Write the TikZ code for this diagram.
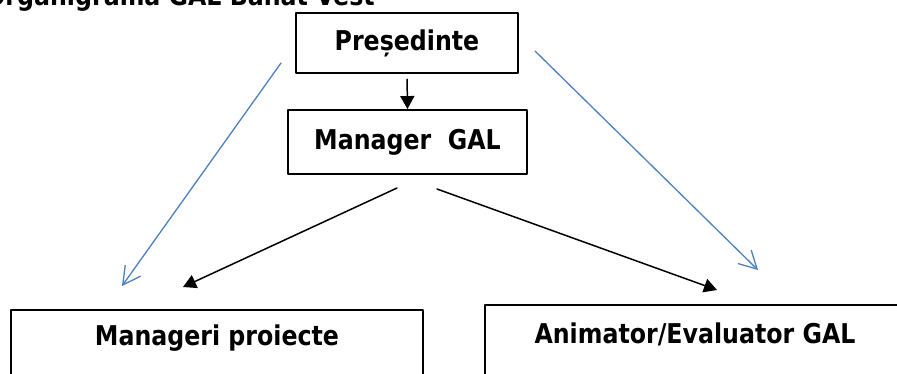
\documentclass[tikz,border=0pt]{standalone}
\usepackage{fontspec}
\usepackage{tikz}
\usetikzlibrary{arrows.meta}
\newfontfamily\galfont[FakeStretch=0.87]{DejaVu Sans}
\definecolor{albastru}{rgb}{0.31,0.506,0.741}

\tikzset{
  cutie/.style={draw=black,line width=1.1pt,rectangle,inner sep=0pt,
    font=\galfont\bfseries\fontsize{15.5pt}{18pt}\selectfont},
  jos/.style={cutie,anchor=north,text height=0.4cm,text depth=2.2cm},
  sageata/.style={-{Triangle[length=0.26cm,width=0.28cm]},line width=0.85pt,black},
  sageatab/.style={-{Straight Barb[length=0.35cm,width=0.38cm]},line width=0.75pt,albastru}
}

\begin{document}
\begin{tikzpicture}[line cap=round,line join=round,x=0.02cm,y=-0.02cm]
		\useasboundingbox (0,0) rectangle (897,373);
		% titlu (taiat sus)
		\node[anchor=base west,inner sep=0pt,font=\galfont\bfseries\fontsize{15.5pt}{18pt}\selectfont] (titlu) at (-15,5) {Organigrama GAL Banat-Vest};
		% cutii
		\node[cutie,minimum width=4.44cm,minimum height=1.2cm] (pres) at (407,43) {Președinte};
		\node[cutie,minimum width=4.78cm,minimum height=1.28cm] (mgr) at (407.5,142) {Manager\ \ GAL};
		\node[jos,minimum width=8.24cm,inner ysep=0.32cm] (proiecte) at (217,309) {Manageri proiecte};
		\node[jos,minimum width=8.4cm,inner ysep=0.38cm] (anim) at (695,304) {Animator/Evaluator GAL};
		% capete sageti
		\coordinate (a1) at (281,63);
		\coordinate (a2) at (122,286);
		\coordinate (b1) at (535,51);
		\coordinate (b2) at (758,270);
		\coordinate (c1) at (397,188);
		\coordinate (c2) at (183,287);
		\coordinate (d1) at (437,189);
		\coordinate (d2) at (717,290);
		% sageti
		\draw[sageata,shorten <=3pt] (pres.south) -- (mgr.north);
		\draw[sageata] (c1) -- (c2);
		\draw[sageata] (d1) -- (d2);
		\draw[sageatab] (a1) -- (a2);
		\draw[sageatab] (b1) -- (b2);
\end{tikzpicture}
\end{document}
